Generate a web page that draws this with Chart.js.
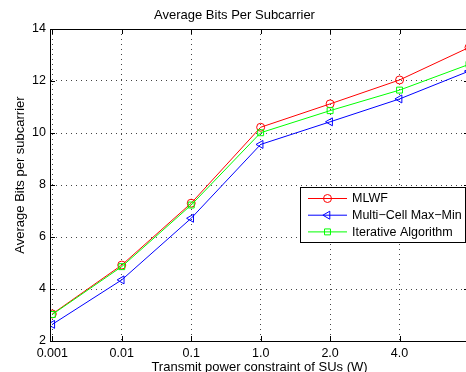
<!DOCTYPE html>
<html>
<head>
<meta charset="utf-8">
<script src="https://cdn.jsdelivr.net/npm/chart.js@4"></script>
<style>
  html, body { margin: 0; padding: 0; overflow: hidden; background: #fff; }
  canvas { display: block; }
</style>
</head>
<body>
<canvas id="chart" width="480" height="372"></canvas>
<script>
// x categories (the last one sits past the cropped right edge)
const xLabels = ['0.001', '0.01', '0.1', '1.0', '2.0', '4.0', ''];
const mlwf = [3.04, 4.92, 7.30, 10.22, 11.12, 12.04, 13.29];
const maxMin = [2.64, 4.35, 6.72, 9.56, 10.43, 11.31, 12.38];
const iterative = [3.02, 4.86, 7.23, 10.01, 10.86, 11.65, 12.64];
const yTicks = [2, 4, 6, 8, 10, 12, 14];

const FONT = "'Liberation Sans', Arial, sans-serif";

const series = [
  { label: 'MLWF', data: mlwf, color: '#ff0000', style: 'circle', radius: 4, rot: 0, order: 2 },
  { label: 'Multi\u2212Cell Max\u2212Min', data: maxMin, color: '#0000ff', style: 'triangle', radius: 4.6, rot: -90, order: 1 },
  { label: 'Iterative Algorithm', data: iterative, color: '#00ff00', style: 'rect', radius: 4.2, rot: 0, order: 0 }
];

// box, inward ticks, legend and axis titles, MATLAB style
const matlabFrame = {
  id: 'matlabFrame',
  afterDraw(chart) {
    const { ctx, chartArea: a, scales: { x, y } } = chart;
    ctx.save();
    ctx.strokeStyle = '#000';
    ctx.lineWidth = 1;
    ctx.strokeRect(Math.round(a.left) + 0.5, Math.round(a.top) + 0.5,
      Math.round(a.right - a.left), Math.round(a.bottom - a.top));

    const tl = 5;
    ctx.beginPath();
    x.ticks.forEach(t => {
      const px = Math.round(x.getPixelForValue(t.value)) + 0.5;
      ctx.moveTo(px, a.bottom); ctx.lineTo(px, a.bottom - tl);
      ctx.moveTo(px, a.top); ctx.lineTo(px, a.top + tl);
    });
    y.ticks.forEach(t => {
      const py = Math.round(y.getPixelForValue(t.value)) + 0.5;
      ctx.moveTo(a.left, py); ctx.lineTo(a.left + tl, py);
      ctx.moveTo(a.right, py); ctx.lineTo(a.right - tl, py);
    });
    ctx.stroke();

    // legend
    const lx = 300.5, ly = 187.5, lw = 165, lh = 55;
    ctx.fillStyle = '#fff';
    ctx.fillRect(lx, ly, lw, lh);
    ctx.strokeRect(lx, ly, lw, lh);
    ctx.font = '12.5px ' + FONT;
    ctx.textBaseline = 'middle';
    series.forEach((s, i) => {
      const cy = 198.5 + i * 16.7;
      ctx.strokeStyle = s.color;
      ctx.beginPath();
      ctx.moveTo(308, cy); ctx.lineTo(347, cy);
      ctx.stroke();
      ctx.fillStyle = 'rgba(0,0,0,0)';
      Chart.helpers.drawPoint(ctx, {
        pointStyle: s.style, radius: s.radius, rotation: s.rot, borderWidth: 1
      }, 327.5, cy);
      ctx.fillStyle = '#000';
      ctx.textAlign = 'left';
      ctx.fillText(s.label, 352, cy + 0.5);
    });

    // axis titles
    ctx.font = '13px ' + FONT;
    ctx.fillStyle = '#000';
    ctx.textAlign = 'center';
    ctx.fillText('Transmit power constraint of SUs (W)', (a.left + a.right) / 2, 367);
    ctx.translate(20, 175);
    ctx.rotate(-Math.PI / 2);
    ctx.fillText('Average Bits per subcarrier', 0, 0);
    ctx.restore();
  }
};

new Chart(document.getElementById('chart'), {
  type: 'line',
  data: {
    datasets: series.map(s => ({
      label: s.label,
      data: s.data.map((v, i) => ({ x: i + 1, y: v })),
      borderColor: s.color,
      borderWidth: 1,
      pointStyle: s.style,
      pointRadius: s.radius,
      pointRotation: s.rot,
      pointBorderColor: s.color,
      pointBackgroundColor: 'rgba(0,0,0,0)',
      pointBorderWidth: 1,
      tension: 0,
      order: s.order
    }))
  },
  options: {
    responsive: false,
    animation: false,
    devicePixelRatio: 1,
    layout: { padding: { left: 0, right: 11, top: 0, bottom: 0 } },
    scales: {
      x: {
        type: 'linear',
        min: 0.967,
        max: 7,
        afterBuildTicks: scale => {
          scale.ticks = xLabels.map((_, i) => ({ value: i + 1 }));
        },
        afterFit: scale => { scale.height = 31; },
        ticks: {
          callback: (v) => xLabels[v - 1],
          color: '#000',
          font: { family: FONT, size: 12.5 },
          padding: 5,
          maxRotation: 0,
          autoSkip: false
        },
        grid: { color: '#444', lineWidth: 1, drawTicks: false },
        border: { display: true, color: '#000', dash: [1, 4] }
      },
      y: {
        min: 2,
        max: 14,
        afterBuildTicks: scale => {
          scale.ticks = yTicks.map(v => ({ value: v }));
        },
        afterFit: scale => { scale.width = 50; },
        ticks: {
          color: '#000',
          font: { family: FONT, size: 12.5 },
          padding: 4
        },
        grid: { color: '#444', lineWidth: 1, drawTicks: false },
        border: { display: true, color: '#000', dash: [1, 4] }
      }
    },
    plugins: {
      legend: { display: false },
      tooltip: { enabled: false },
      title: {
        display: true,
        text: 'Average Bits Per Subcarrier',
        color: '#000',
        font: { family: FONT, size: 13, weight: 'normal' },
        padding: { top: 8, bottom: 5.4 }
      }
    }
  },
  plugins: [matlabFrame]
});
</script>
</body>
</html>
